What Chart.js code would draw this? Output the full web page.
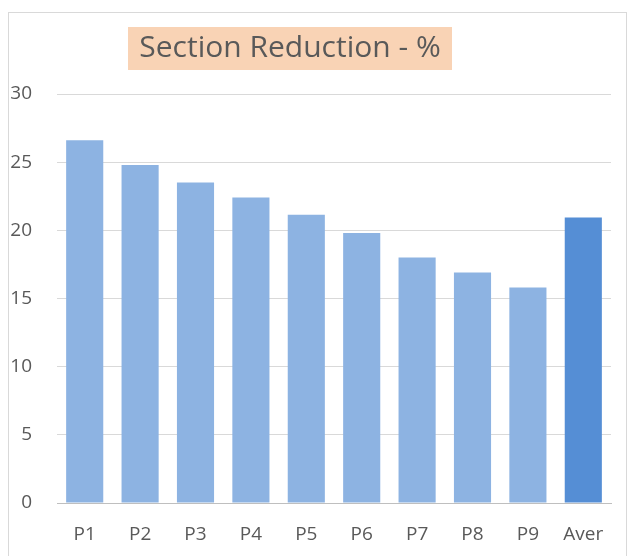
<!DOCTYPE html>
<html>
<head>
<meta charset="utf-8">
<script src="https://cdn.jsdelivr.net/npm/chart.js@4"></script>
<style>
  html, body { margin: 0; padding: 0; background: #fff; }
  #wrap { width: 630px; height: 556px; position: relative; }
</style>
</head>
<body>
<div id="wrap"><canvas id="myChart"></canvas></div>
<script>
const categories = ['P1', 'P2', 'P3', 'P4', 'P5', 'P6', 'P7', 'P8', 'P9', 'Aver'];
const reduction = [26.6, 24.8, 23.5, 22.4, 21.15, 19.8, 18.0, 16.9, 15.8, 20.95];
const yTicks = [0, 5, 10, 15, 20, 25, 30];

const titleText = 'Section Reduction - %';
const fontFamily = '"Open Sans", "Noto Sans", sans-serif';

// frame + title box drawn behind the chart
const decor = {
  id: 'decor',
  beforeDraw(chart) {
    const c = chart.ctx;
    c.save();
    c.fillStyle = '#fff';
    c.fillRect(0, 0, chart.width, chart.height);
    c.strokeStyle = '#D9D9D9';
    c.lineWidth = 1;
    c.strokeRect(8.5, 12.5, 618, 560);
    c.fillStyle = '#F9D3B5';
    c.fillRect(128, 27, 324, 43);
    c.fillStyle = '#595959';
    c.font = '30px ' + fontFamily;
    c.textAlign = 'center';
    c.textBaseline = 'middle';
    c.fillText(titleText, 290, 48);
    c.restore();
  }
};

const ctx = document.getElementById('myChart');

new Chart(ctx, {
  type: 'bar',
  data: {
    labels: categories,
    datasets: [{
      label: titleText,
      data: reduction,
      backgroundColor: categories.map((c, i) => i === categories.length - 1 ? '#558ED5' : '#8DB3E2'),
      borderWidth: 0,
      categoryPercentage: 1,
      barPercentage: 0.67
    }]
  },
  options: {
    responsive: true,
    maintainAspectRatio: false,
    animation: false,
    layout: {
      padding: { top: 94, right: 19, bottom: 10, left: 0 }
    },
    plugins: {
      legend: { display: false },
      title: { display: false },
      tooltip: { enabled: false }
    },
    scales: {
      y: {
        min: 0,
        max: 30,
        afterBuildTicks: (scale) => { scale.ticks = yTicks.map(v => ({ value: v })); },
        afterFit: (scale) => { scale.width = 57; },
        ticks: {
          color: '#595959',
          padding: 25,
          font: { family: fontFamily, size: 19 }
        },
        grid: {
          drawTicks: false,
          color: (c) => c.tick && c.tick.value === 0 ? '#BFBFBF' : '#D9D9D9'
        },
        border: { display: false }
      },
      x: {
        afterFit: (scale) => { scale.height = 43; },
        ticks: {
          color: '#595959',
          padding: 20,
          font: { family: fontFamily, size: 19 }
        },
        grid: { display: false, drawTicks: false },
        border: { color: '#BFBFBF' }
      }
    }
  },
  plugins: [decor]
});
</script>
</body>
</html>
